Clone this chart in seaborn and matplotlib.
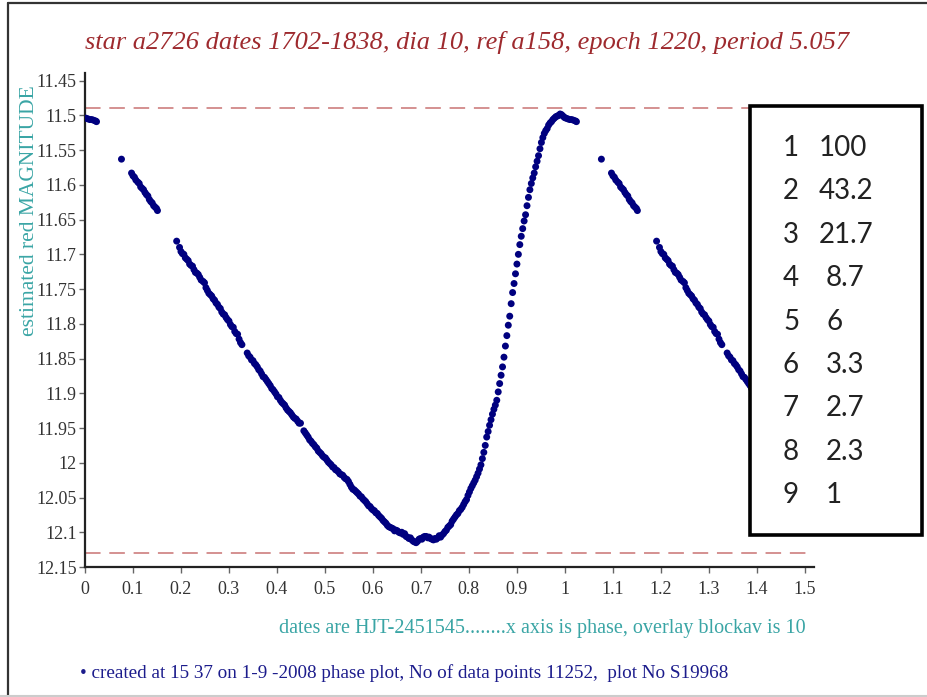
import matplotlib
matplotlib.use("Agg")
import matplotlib.pyplot as plt
import matplotlib.patches as mpatches
import matplotlib.lines as mlines
import pandas as pd
import seaborn as sns

# ---------------------------------------------------------------- data
# folded light curve: phase (0..1) and estimated red magnitude
phase = [
    0.002, 0.006, 0.010, 0.014, 0.018, 0.022, 0.024,
    0.076,
    0.097, 0.100, 0.103, 0.106, 0.110, 0.113, 0.116, 0.119, 0.122, 0.125,
    0.128, 0.131, 0.134, 0.137, 0.140, 0.143, 0.146, 0.149, 0.151,
    0.191,
    0.197, 0.200, 0.203, 0.206, 0.209, 0.212, 0.215, 0.218, 0.221, 0.224,
    0.227, 0.230, 0.233, 0.236, 0.239, 0.242, 0.246, 0.249, 0.252, 0.255,
    0.258, 0.261, 0.264, 0.267, 0.270, 0.273, 0.276, 0.279, 0.282, 0.285,
    0.288, 0.291, 0.294, 0.297, 0.300, 0.303, 0.306, 0.309, 0.312, 0.315,
    0.318, 0.321, 0.324, 0.327,
    0.338, 0.341, 0.344, 0.347, 0.350, 0.353, 0.356, 0.359, 0.362, 0.365,
    0.368, 0.371, 0.374, 0.377, 0.380, 0.383, 0.386, 0.389, 0.392, 0.395,
    0.398, 0.401, 0.404, 0.407, 0.410, 0.413, 0.416, 0.419, 0.422, 0.425,
    0.428, 0.431, 0.434, 0.437, 0.440, 0.443, 0.446, 0.449,
    0.456, 0.459, 0.462, 0.465, 0.468, 0.471, 0.474, 0.477, 0.480, 0.483,
    0.486, 0.489, 0.492, 0.495, 0.498, 0.501, 0.504, 0.507, 0.510, 0.513,
    0.516, 0.519, 0.522, 0.525, 0.528, 0.531, 0.534, 0.537, 0.540, 0.543,
    0.546, 0.549, 0.552, 0.555, 0.558, 0.561, 0.564, 0.567, 0.570, 0.573,
    0.576, 0.579, 0.582, 0.585, 0.588, 0.591, 0.594, 0.597, 0.600, 0.603,
    0.606, 0.609, 0.612, 0.615, 0.618, 0.621, 0.624, 0.627, 0.630, 0.633,
    0.636, 0.639, 0.642, 0.645, 0.648, 0.651, 0.654, 0.657, 0.660, 0.663,
    0.666, 0.669, 0.672, 0.675, 0.678, 0.681, 0.684, 0.687, 0.690, 0.693,
    0.696, 0.699, 0.702, 0.705, 0.708, 0.711, 0.714, 0.717, 0.720, 0.723,
    0.726, 0.729, 0.732, 0.735, 0.738, 0.741, 0.744, 0.747, 0.750, 0.753,
    0.756, 0.759, 0.762, 0.765, 0.768, 0.771, 0.774, 0.777, 0.780, 0.783,
    0.786, 0.789, 0.792, 0.795, 0.798, 0.801, 0.804, 0.807, 0.810, 0.813,
    0.816, 0.819, 0.822, 0.825, 0.828, 0.831, 0.834, 0.837, 0.840, 0.843,
    0.846, 0.849, 0.852, 0.855, 0.858, 0.861, 0.864, 0.867, 0.870, 0.873,
    0.876, 0.879, 0.882, 0.885, 0.888, 0.891, 0.894, 0.897, 0.900, 0.903,
    0.906, 0.909, 0.912, 0.915, 0.918, 0.921, 0.924, 0.927, 0.930, 0.933,
    0.936, 0.939, 0.942, 0.945, 0.948, 0.951, 0.954, 0.957, 0.960, 0.963,
    0.966, 0.969, 0.972, 0.975, 0.978, 0.981, 0.984, 0.987, 0.990, 0.993,
    0.996, 0.999,
]
magnitude = [
    11.504, 11.505, 11.506, 11.506, 11.507, 11.508, 11.509,
    11.563,
    11.583, 11.587, 11.589, 11.593, 11.596, 11.598, 11.603, 11.605, 11.607, 11.611,
    11.614, 11.616, 11.621, 11.624, 11.626, 11.630, 11.632, 11.634, 11.637,
    11.681,
    11.690, 11.696, 11.699, 11.700, 11.705, 11.707, 11.709, 11.714, 11.716, 11.717,
    11.722, 11.726, 11.727, 11.729, 11.733, 11.737, 11.739, 11.741, 11.748, 11.752,
    11.756, 11.758, 11.760, 11.764, 11.766, 11.770, 11.772, 11.776, 11.778, 11.783,
    11.786, 11.787, 11.791, 11.794, 11.796, 11.801, 11.804, 11.805, 11.811, 11.814,
    11.815, 11.822, 11.827, 11.830,
    11.842, 11.846, 11.848, 11.852, 11.853, 11.857, 11.859, 11.862, 11.866, 11.868,
    11.872, 11.876, 11.877, 11.880, 11.883, 11.886, 11.889, 11.893, 11.895, 11.898,
    11.901, 11.905, 11.906, 11.910, 11.913, 11.915, 11.917, 11.921, 11.924, 11.926,
    11.928, 11.931, 11.934, 11.936, 11.937, 11.940, 11.943, 11.943,
    11.954, 11.957, 11.960, 11.963, 11.967, 11.969, 11.972, 11.974, 11.977, 11.979,
    11.983, 11.985, 11.987, 11.990, 11.992, 11.993, 11.996, 11.999, 12.001, 12.003,
    12.006, 12.007, 12.010, 12.011, 12.013, 12.016, 12.017, 12.018, 12.021, 12.023,
    12.024, 12.027, 12.031, 12.035, 12.038, 12.039, 12.041, 12.043, 12.045, 12.048,
    12.049, 12.052, 12.054, 12.056, 12.059, 12.062, 12.063, 12.066, 12.068, 12.069,
    12.072, 12.073, 12.076, 12.078, 12.080, 12.083, 12.085, 12.087, 12.090, 12.092,
    12.093, 12.094, 12.095, 12.098, 12.097, 12.098, 12.100, 12.101, 12.100, 12.103,
    12.102, 12.106, 12.107, 12.109, 12.108, 12.111, 12.113, 12.114, 12.115, 12.113,
    12.110, 12.109, 12.110, 12.107, 12.106, 12.106, 12.108, 12.107, 12.109, 12.110,
    12.111, 12.109, 12.110, 12.108, 12.105, 12.107, 12.104, 12.102, 12.099, 12.097,
    12.093, 12.091, 12.089, 12.084, 12.081, 12.078, 12.075, 12.073, 12.069, 12.067,
    12.064, 12.060, 12.056, 12.053, 12.047, 12.042, 12.037, 12.033, 12.029, 12.025,
    12.020, 12.015, 12.009, 12.003, 11.994, 11.985, 11.975, 11.963, 11.955, 11.946,
    11.938, 11.930, 11.923, 11.917, 11.910, 11.898, 11.886, 11.874, 11.862, 11.848,
    11.832, 11.817, 11.802, 11.789, 11.771, 11.755, 11.742, 11.728, 11.714, 11.700,
    11.686, 11.674, 11.663, 11.652, 11.643, 11.630, 11.618, 11.607, 11.598, 11.590,
    11.583, 11.574, 11.566, 11.558, 11.548, 11.539, 11.532, 11.526, 11.522, 11.519,
    11.514, 11.511, 11.509, 11.506, 11.504, 11.502, 11.501, 11.500, 11.498, 11.499,
    11.501, 11.503,
]

# reference levels (maximum / minimum brightness)
bright_level = 11.49
faint_level = 12.13

# relative amplitudes of the fitted harmonics
harmonic_no = [1, 2, 3, 4, 5, 6, 7, 8, 9]
harmonic_amp = [100, 43.2, 21.7, 8.7, 6, 3.3, 2.7, 2.3, 1]

x_ticks = [0, 0.1, 0.2, 0.3, 0.4, 0.5, 0.6, 0.7, 0.8, 0.9, 1, 1.1, 1.2, 1.3, 1.4, 1.5]
y_ticks = [11.45, 11.5, 11.55, 11.6, 11.65, 11.7, 11.75, 11.8, 11.85, 11.9,
           11.95, 12, 12.05, 12.1, 12.15]

title = "star a2726 dates 1702-1838, dia 10, ref a158, epoch 1220, period 5.057"
y_label = "estimated red MAGNITUDE"
x_note = "dates are HJT-2451545........x axis is phase, overlay blockav is 10"
footer = "\u2022 created at 15 37 on 1-9 -2008 phase plot, No of data points 11252,  plot No S19968"

# ---------------------------------------------------------------- frame
df = pd.DataFrame({"phase": phase, "mag": magnitude})
# overlay: the first half cycle is repeated after phase 1
df_overlay = df[df["phase"] < 0.5].assign(phase=lambda d: d["phase"] + 1.0)
df_all = pd.concat([df, df_overlay], ignore_index=True)

sns.set_theme(style="white")
plt.rcParams["font.family"] = ["Liberation Serif", "DejaVu Serif"]

W, H = 927, 697
fig = plt.figure(figsize=(W / 100, H / 100), dpi=100)
fig.patch.set_facecolor("white")

ax_left, ax_right, ax_top, ax_bottom = 85, 814, 73, 567
ax = fig.add_axes([ax_left / W, 1 - ax_bottom / H,
                   (ax_right - ax_left) / W, (ax_bottom - ax_top) / H])
ax.set_facecolor("white")

sns.scatterplot(data=df_all, x="phase", y="mag", ax=ax, color="#00007f",
                s=25, edgecolor="none", linewidth=0, legend=False, zorder=3)

dash_col = "#d49090"
ax.axhline(bright_level, color=dash_col, lw=1.4, dashes=(8, 4.5), zorder=2)
ax.axhline(faint_level, color=dash_col, lw=1.4, dashes=(8, 4.5), zorder=2)

ax.set_xlim(0, 1.519)
ax.set_ylim(12.15, 11.439)
ax.set_xticks(x_ticks)
ax.set_xticklabels([f"{t:g}" for t in x_ticks])
ax.set_yticks(y_ticks)
ax.set_yticklabels([f"{t:g}" for t in y_ticks])
ax.tick_params(axis="both", which="major", direction="out", length=4,
               width=1, color="#666666", labelsize=13, labelcolor="#333333",
               bottom=True, left=True, pad=2)
ax.tick_params(axis="x", pad=6)
for side in ("top", "right"):
    ax.spines[side].set_visible(False)
for side in ("left", "bottom"):
    ax.spines[side].set_color("#222222")
    ax.spines[side].set_linewidth(1.6)
ax.set_xlabel("")
ax.set_ylabel("")

# ---------------------------------------------------------------- texts
fig.text(467 / W, 1 - 42 / H, title, ha="center", va="center",
         fontsize=19, style="italic", color="#9e2a2e")
fig.text(30 / W, 1 - 211 / H, y_label, ha="center", va="center",
         rotation=90, fontsize=15.5, color="#3aa5a5")
fig.text(806 / W, 1 - 629 / H, x_note, ha="right", va="center",
         fontsize=14.5, color="#3aa5a5")
fig.text(80 / W, 1 - 673 / H, footer, ha="left", va="center",
         fontsize=13.8, color="#1c1c8c")

# ---------------------------------------------------------------- harmonic box
bx0, bx1, by0, by1 = 750, 922, 106, 535
box = mpatches.Rectangle((bx0 / W, 1 - by1 / H), (bx1 - bx0) / W, (by1 - by0) / H,
                         transform=fig.transFigure, facecolor="white",
                         edgecolor="black", lw=2.6, zorder=5)
fig.patches.append(box)
row0, row_step = 148, 43.4
for i, (n, a) in enumerate(zip(harmonic_no, harmonic_amp)):
    yy = 1 - (row0 + i * row_step) / H
    fig.text(783 / W, yy, f"{n}", ha="left", va="center", fontsize=20,
             family=["Lato", "DejaVu Sans"], color="#222222", zorder=6)
    xv = 819 if a >= 10 else 826
    fig.text(xv / W, yy, f"{a:g}", ha="left", va="center", fontsize=20,
             family=["Lato", "DejaVu Sans"], color="#222222", zorder=6)

# ---------------------------------------------------------------- page frame
fig.lines.append(mlines.Line2D([8 / W, 8 / W], [0, 1 - 3 / H], transform=fig.transFigure,
                               color="#333333", lw=1.6))
fig.lines.append(mlines.Line2D([8 / W, 1], [1 - 3 / H, 1 - 3 / H], transform=fig.transFigure,
                               color="#333333", lw=1.6))
fig.lines.append(mlines.Line2D([0, 1], [1 - 695.5 / H, 1 - 695.5 / H], transform=fig.transFigure,
                               color="#cccccc", lw=1.5))

fig.savefig("out.png", dpi=100)
